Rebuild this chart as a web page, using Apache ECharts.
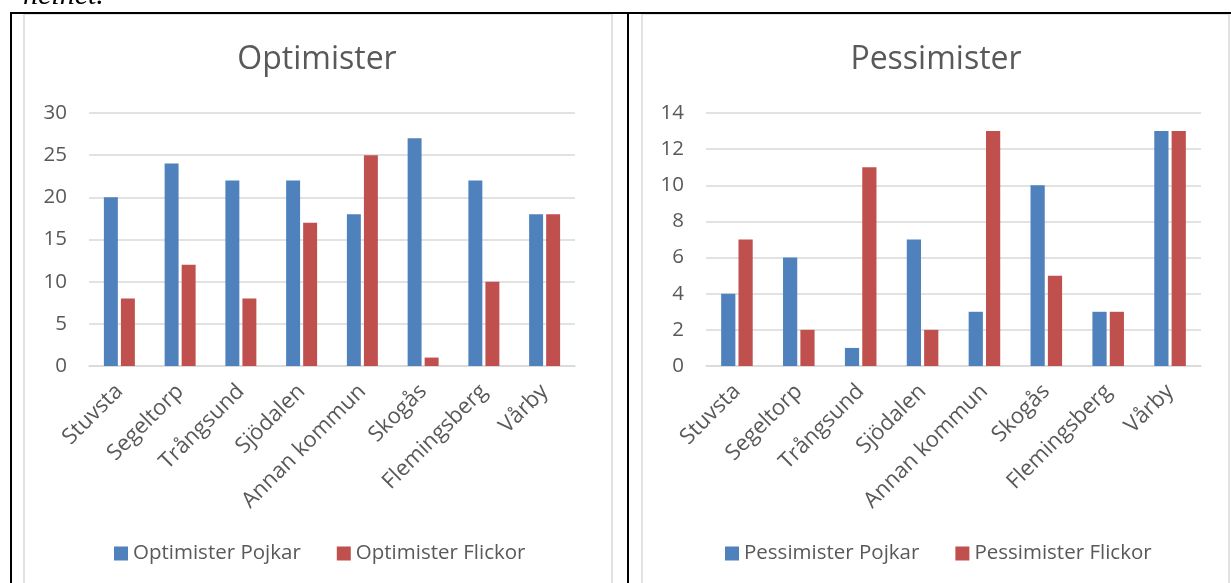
<!DOCTYPE html>
<html><head><meta charset="utf-8">
<script src="https://cdn.jsdelivr.net/npm/echarts@6/dist/echarts.min.js"></script>
<style>html,body{margin:0;padding:0;background:#fff}#c{width:1231px;height:583px}</style>
</head><body><div id="c"></div>
<script>
const categories = ['Stuvsta','Segeltorp','Trångsund','Sjödalen','Annan kommun','Skogås','Flemingsberg','Vårby'];
const optPojkar = [20,24,22,22,18,27,22,18];
const optFlickor = [8,12,8,17,25,1,10,18];
const pesPojkar = [4,6,1,7,3,10,3,13];
const pesFlickor = [7,2,11,2,13,5,3,13];
const optTicks = {min:0,max:30,interval:5};
const pesTicks = {min:0,max:14,interval:2};

const FONT = '"Open Sans", "Noto Sans", sans-serif';
const GRAY = '#595959';
const BLUE = '#4F81BD', RED = '#C0504D';

const chart = echarts.init(document.getElementById('c'));
function xAx(i){return {gridIndex:i,type:'category',data:categories,
  axisLine:{lineStyle:{color:'#d9d9d9',width:1.5}},axisTick:{show:false},
  axisLabel:{rotate:45,color:GRAY,fontFamily:FONT,fontSize:22,margin:22,interval:0}};}
function yAx(i,t){return {gridIndex:i,type:'value',min:t.min,max:t.max,interval:t.interval,
  axisLine:{show:false},axisTick:{show:false},
  splitLine:{lineStyle:{color:'#d9d9d9',width:1.5}},
  axisLabel:{color:GRAY,fontFamily:FONT,fontSize:20.5,margin:22}};}
function bar(name,data,color,i){return {name,type:'bar',data,xAxisIndex:i,yAxisIndex:i,
  itemStyle:{color},barGap:'22%',barCategoryGap:'49%'};}

chart.setOption({
  animation:false,
  textStyle:{fontFamily:FONT},
  title:[
    {text:'Optimister',left:312,top:39,textAlign:'center',textStyle:{fontFamily:FONT,fontSize:32,fontWeight:'normal',color:GRAY}},
    {text:'Pessimister',left:931,top:39,textAlign:'center',textStyle:{fontFamily:FONT,fontSize:32,fontWeight:'normal',color:GRAY}}
  ],
  legend:[
    {data:['Optimister Pojkar','Optimister Flickor'],left:114,top:543,padding:0,icon:'rect',itemWidth:14,itemHeight:14,itemGap:36,
     textStyle:{color:GRAY,fontFamily:FONT,fontSize:20.5}},
    {data:['Pessimister Pojkar','Pessimister Flickor'],left:725,top:543,padding:0,icon:'rect',itemWidth:14,itemHeight:14,itemGap:36,
     textStyle:{color:GRAY,fontFamily:FONT,fontSize:20.5}}
  ],
  grid:[
    {left:89,top:113,width:486,height:253},
    {left:706,top:113,width:495,height:253}
  ],
  xAxis:[xAx(0),xAx(1)],
  yAxis:[yAx(0,optTicks),yAx(1,pesTicks)],
  series:[
    bar('Optimister Pojkar',optPojkar,BLUE,0),
    bar('Optimister Flickor',optFlickor,RED,0),
    bar('Pessimister Pojkar',pesPojkar,BLUE,1),
    bar('Pessimister Flickor',pesFlickor,RED,1)
  ],
  graphic:[
    {type:'text',left:23,top:-19,style:{text:'heinet.',font:'italic 30px "Liberation Serif", serif',fill:'#000'}},
    {type:'rect',shape:{x:24,y:14,width:588,height:580},style:{fill:'none',stroke:'#d9d9d9',lineWidth:1.5},z:-1},
    {type:'rect',shape:{x:642,y:14,width:587,height:580},style:{fill:'none',stroke:'#d9d9d9',lineWidth:1.5},z:-1},
    {type:'line',shape:{x1:11,y1:13,x2:1231,y2:13},style:{stroke:'#000',lineWidth:2}},
    {type:'line',shape:{x1:11,y1:12,x2:11,y2:583},style:{stroke:'#000',lineWidth:2}},
    {type:'line',shape:{x1:628,y1:12,x2:628,y2:583},style:{stroke:'#000',lineWidth:2}}
  ]
});
</script></body></html>
